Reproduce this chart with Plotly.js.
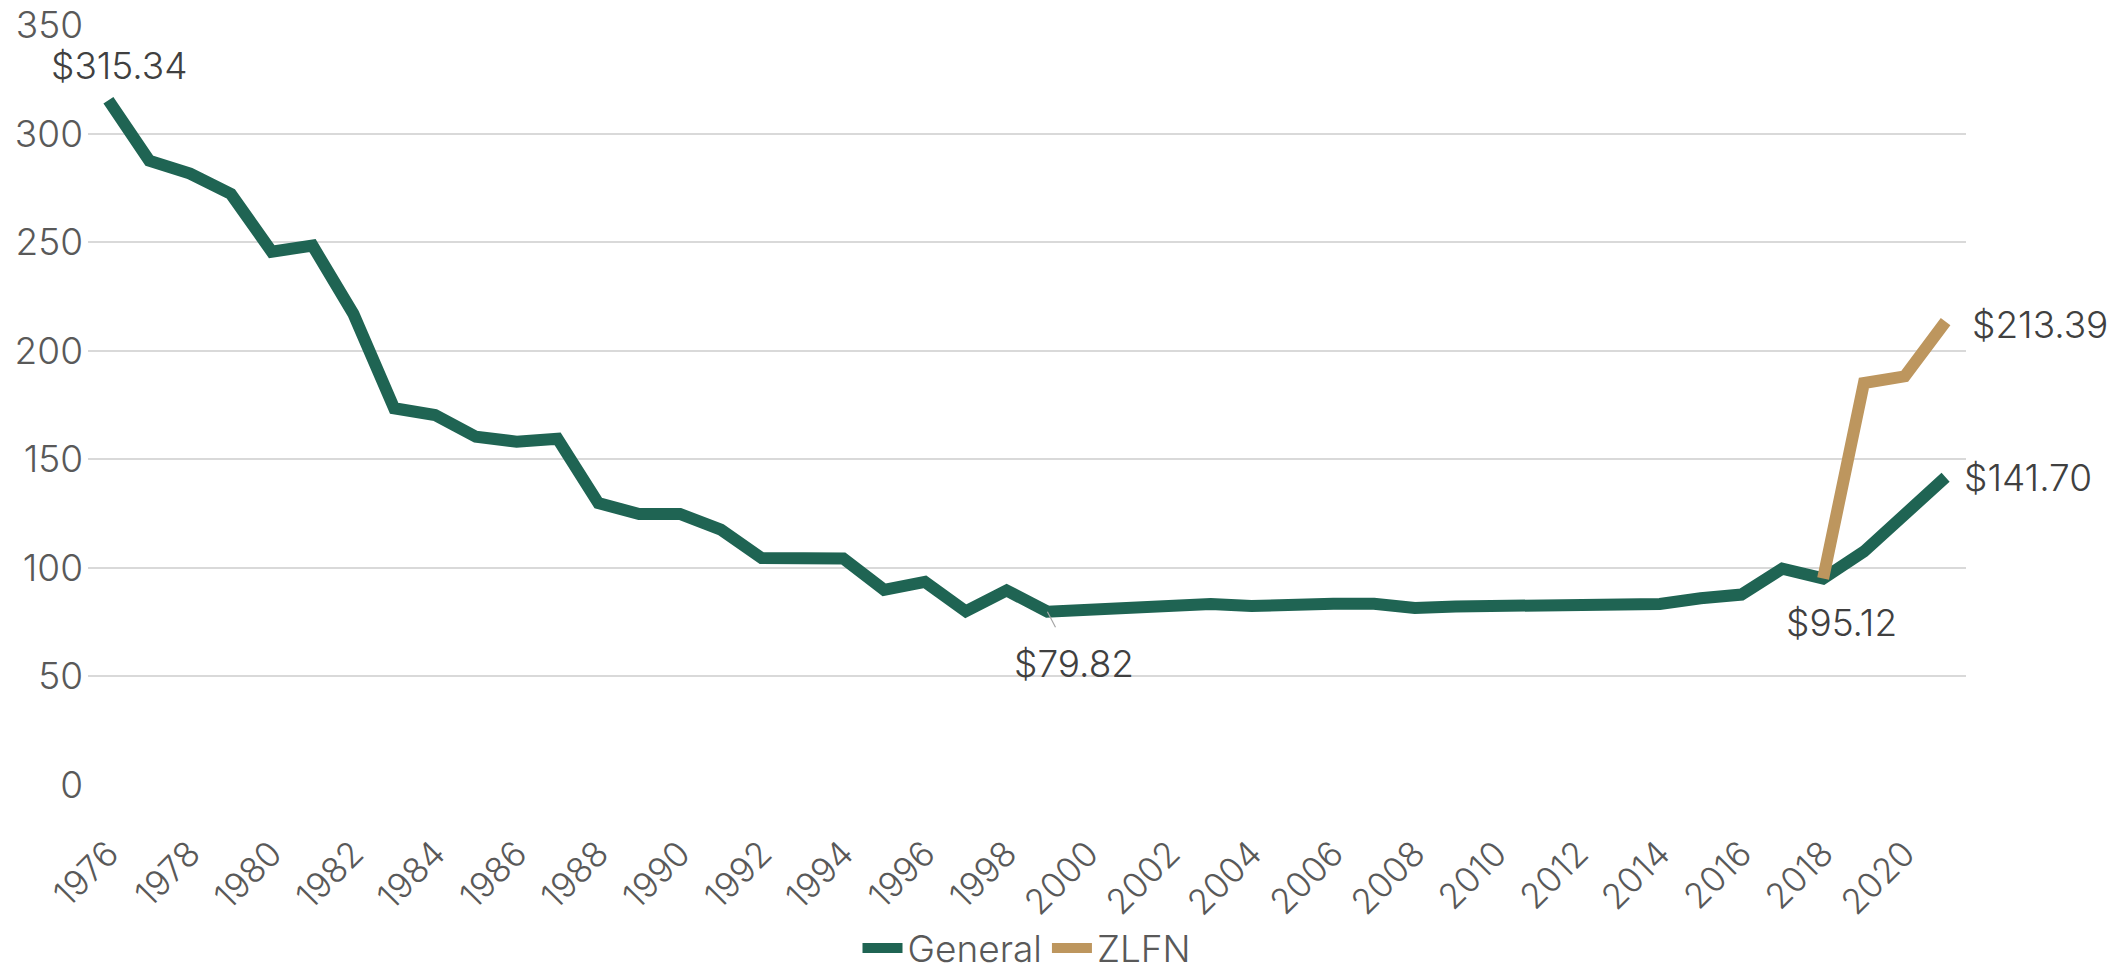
<!DOCTYPE html>
<html>
<head>
<meta charset="utf-8">
<script src="https://cdn.plot.ly/plotly-3.0.1.min.js"></script>
<style>
  html, body { margin: 0; padding: 0; background: #fff; }
  #chart { width: 2117px; height: 970px; }
</style>
</head>
<body>
<div id="chart"></div>
<script>
// Years on the category axis
const years = [1976, 1977, 1978, 1979, 1980, 1981, 1982, 1983, 1984, 1985,
               1986, 1987, 1988, 1989, 1990, 1991, 1992, 1993, 1994, 1995,
               1996, 1997, 1998, 1999, 2000, 2001, 2002, 2003, 2004, 2005,
               2006, 2007, 2008, 2009, 2010, 2011, 2012, 2013, 2014, 2015,
               2016, 2017, 2018, 2019, 2020, 2021];

// Series values
const general = [315.34, 287.5, 281.6, 272.2, 245.6, 248.4, 217.0, 173.5, 170.4, 160.4,
                 158.1, 159.5, 129.8, 124.8, 124.8, 117.6, 104.5, 104.6, 104.3, 89.9,
                 93.5, 80.0, 89.6, 79.82, 80.7, 82.9, 83.1, 83.3, 82.4, 83.4,
                 83.5, 83.5, 81.5, 82.2, 82.6, 82.8, 83.2, 83.5, 83.4, 86.0,
                 87.7, 99.6, 95.12, 107.5, 125.0, 141.70];

const zlfnYears = [2018, 2019, 2020, 2021];
const zlfn = [95.12, 185.1, 188.2, 213.39];

// Labelled points
const labelYears = [1976, 1999, 2018, 2021, 2021];
const labelValues = [315.34, 79.82, 95.12, 213.39, 141.70];

// Axis tick labels
const tickYears = [1976, 1978, 1980, 1982, 1984, 1986, 1988, 1990, 1992, 1994, 1996,
                   1998, 2000, 2002, 2004, 2006, 2008, 2010, 2012, 2014, 2016, 2018, 2020];
const yTicks = [0, 50, 100, 150, 200, 250, 300, 350];

const GREEN = '#1f6453';
const TAN = '#bd965e';
const FONT = 'Inter, "Noto Sans", sans-serif';
const TXT = 37;

const traces = [
    {
        x: years,
        y: general,
        type: 'scatter',
        mode: 'lines',
        name: 'General',
        line: { color: GREEN, width: 12 }
    },
    {
        x: zlfnYears,
        y: zlfn,
        type: 'scatter',
        mode: 'lines',
        name: 'ZLFN',
        line: { color: TAN, width: 12 }
    }
];

// placement of each data label, relative to its point
const labelStyle = [
    { xshift: 11, yshift: 35 },
    { arrow: true, ax: 27, ay: 52 },
    { xshift: 18, yshift: -44 },
    { xshift: 24, yshift: -3, xanchor: 'left' },
    { xshift: 16, yshift: 0, xanchor: 'left' }
];

const annotations = labelValues.map((v, i) => {
    const s = labelStyle[i];
    const a = {
        x: labelYears[i],
        y: v,
        xref: 'x',
        yref: 'y',
        text: '$' + v.toFixed(2),
        font: { family: FONT, size: TXT, color: '#404040', weight: 300 },
        showarrow: false
    };
    if (s.arrow) {
        a.showarrow = true;
        a.ax = s.ax;
        a.ay = s.ay;
        a.arrowhead = 0;
        a.arrowwidth = 1.2;
        a.arrowcolor = '#a6a6a6';
        a.startstandoff = 14;
    } else {
        a.xshift = s.xshift;
        a.yshift = s.yshift;
        a.xanchor = s.xanchor || 'center';
    }
    return a;
});

const layout = {
    width: 2117,
    height: 970,
    margin: { l: 88, r: 151, t: 25, b: 185, autoexpand: false },
    paper_bgcolor: '#ffffff',
    plot_bgcolor: '#ffffff',
    font: { family: FONT, size: TXT, color: '#595959', weight: 300 },
    showlegend: true,
    legend: {
        orientation: 'h',
        x: 0.5,
        xanchor: 'center',
        y: -0.215,
        yanchor: 'middle',
        font: { family: FONT, size: TXT, color: '#595959', weight: 300 },
        itemwidth: 40,
        traceorder: 'normal'
    },
    xaxis: {
        type: 'linear',
        range: [1975.5, 2021.5],
        tickmode: 'array',
        tickvals: tickYears,
        ticktext: tickYears.map(String),
        tickangle: -45,
        automargin: false,
        showgrid: false,
        zeroline: false,
        showline: false,
        ticks: '',
        ticklabelstandoff: 40,
        tickfont: { family: FONT, size: 35, color: '#595959', weight: 300 }
    },
    yaxis: {
        range: [0, 350],
        tickmode: 'array',
        tickvals: yTicks,
        automargin: false,
        showgrid: true,
        gridcolor: '#d9d9d9',
        gridwidth: 2,
        zeroline: false,
        showline: false,
        ticks: '',
        ticklabelstandoff: 4,
        tickfont: { family: FONT, size: TXT, color: '#595959', weight: 300 }
    },
    annotations: annotations
};

Plotly.newPlot('chart', traces, layout, { displayModeBar: false, staticPlot: true });
</script>
</body>
</html>
